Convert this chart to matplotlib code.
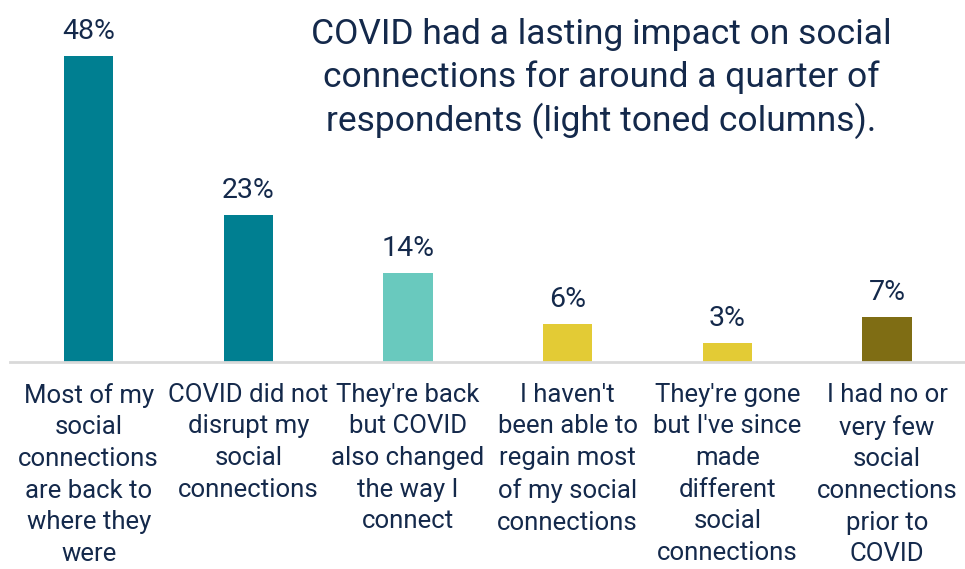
import matplotlib.pyplot as plt
import numpy as np

categories = [
    "Most of my\nsocial\nconnections\nare back to\nwhere they\nwere",
    "COVID did not\ndisrupt my\nsocial\nconnections",
    "They're back\nbut COVID\nalso changed\nthe way I\nconnect",
    "I haven't\nbeen able to\nregain most\nof my social\nconnections",
    "They're gone\nbut I've since\nmade\ndifferent\nsocial\nconnections",
    "I had no or\nvery few\nsocial\nconnections\nprior to\nCOVID",
]
values = [48, 23, 14, 6, 3, 7]
colors = ["#007F91", "#007F91", "#69C9BE", "#E3CB35", "#E3CB35", "#7F6D14"]

title = "COVID had a lasting impact on social\nconnections for around a quarter of\nrespondents (light toned columns)."

text_color = "#14294B"
plt.rcParams['font.family'] = ['Roboto', 'DejaVu Sans']


def main():
    fig = plt.figure(figsize=(9.65, 5.69), dpi=100)
    ax = fig.add_axes([0.01, 0.3638, 0.992, 0.5606])

    x = np.arange(len(values))
    ax.bar(x, values, width=0.31, color=colors)
    for xi, v in zip(x, values):
        ax.text(xi, v + 1.7, "%d%%" % v, ha='center', va='bottom',
                fontsize=20.5, color=text_color)

    ax.set_xlim(-0.495, 5.5)
    ax.set_ylim(0, 50)
    ax.set_yticks([])
    ax.set_xticks(x)
    ax.set_xticklabels(categories, fontsize=18.5, color=text_color,
                       linespacing=1.4)
    ax.tick_params(axis='x', length=0, pad=15)
    for side in ['top', 'right', 'left']:
        ax.spines[side].set_visible(False)
    ax.spines['bottom'].set_color('#D9D9D9')
    ax.spines['bottom'].set_linewidth(2)

    fig.text(0.623, 0.968, title, ha='center', va='top', fontsize=25.5,
             color=text_color, linespacing=1.33)

    fig.savefig('out.png', dpi=100)


if __name__ == "__main__":
    main()
